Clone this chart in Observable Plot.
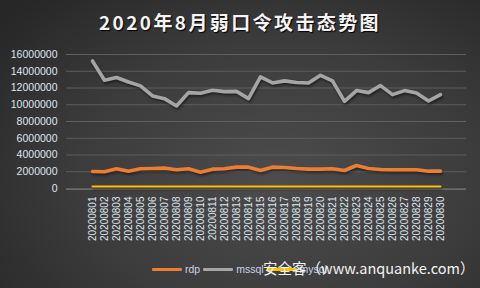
<!DOCTYPE html>
<html>
<head>
<meta charset="utf-8">
<script src="https://cdn.jsdelivr.net/npm/d3@7"></script>
<script src="https://cdn.jsdelivr.net/npm/@observablehq/plot@0.6"></script>
<style>
  html, body { margin: 0; padding: 0; }
  #wrap {
    position: relative; width: 480px; height: 288px; overflow: hidden;
    background: radial-gradient(ellipse 75% 85% at 58% 62%, #4c4c4c 0%, #3c3c3c 55%, #272727 100%);
    font-family: "Liberation Sans", Arial, sans-serif;
  }
  #title {
    position: absolute; left: 0; top: 8px; width: 480px; text-align: center;
    font-family: "Noto Sans CJK SC", sans-serif; font-weight: bold; font-size: 19px;
    letter-spacing: 2.4px; color: #f4f4f4; line-height: 28px;
    text-shadow: 1px 1px 1px #000;
  }
  #chart { position: absolute; left: 0; top: 36px; }
  #legend {
    position: absolute; top: 262px; left: 152px; height: 14px;
    display: flex; align-items: center; font-size: 10.5px; color: #c9d5e6;
  }
  .sw { display: inline-block; width: 30px; height: 3px; margin-right: 3px; border-radius: 1px; }
  .lab { margin-right: 3px; }
  #wm {
    position: absolute; left: 263px; top: 259px; font-family: "Noto Sans CJK SC", sans-serif;
    font-size: 14.5px; color: #f2f2f2; white-space: nowrap; line-height: 18px;
  }
</style>
</head>
<body>
<div id="wrap">
  <div id="title">2020年8月弱口令攻击态势图</div>
  <div id="chart"></div>
  <div id="legend"></div>
  <div id="wm">安全客（www.anquanke.com）</div>
</div>
<script>
const dates = ["20200801","20200802","20200803","20200804","20200805","20200806","20200807","20200808","20200809","20200810",
  "20200811","20200812","20200813","20200814","20200815","20200816","20200817","20200818","20200819","20200820",
  "20200821","20200822","20200823","20200824","20200825","20200826","20200827","20200828","20200829","20200830"];
const rdp = [2030000,2000000,2360000,2070000,2360000,2390000,2430000,2230000,2360000,1950000,
  2310000,2360000,2550000,2550000,2150000,2550000,2510000,2390000,2310000,2310000,
  2360000,2150000,2750000,2390000,2270000,2230000,2230000,2230000,2070000,2070000];
const mssql = [15230000,12920000,13250000,12720000,12250000,11050000,10730000,9850000,11450000,11370000,
  11730000,11570000,11600000,10730000,13320000,12600000,12850000,12650000,12600000,13520000,
  12850000,10410000,11690000,11450000,12290000,11210000,11690000,11410000,10450000,11210000];
const mysql = [250000,250000,250000,250000,250000,250000,250000,250000,250000,250000,
  250000,250000,250000,250000,250000,250000,250000,250000,250000,250000,
  250000,250000,250000,250000,250000,250000,250000,250000,250000,250000];
const yTicks = [0,2000000,4000000,6000000,8000000,10000000,12000000,14000000,16000000];

const seriesNames = ["rdp", "mssql", "mysql"];
const seriesColors = ["#ed7d31", "#a5a5a5", "#ffc000"];

const rows = [];
[rdp, mssql, mysql].forEach((arr, k) => arr.forEach((v, i) => rows.push({date: dates[i], value: v, series: seriesNames[k]})));

const chart = Plot.plot({
  width: 480, height: 214,
  marginTop: 18, marginBottom: 62, marginLeft: 66, marginRight: 14,
  style: {background: "transparent", color: "#dfe6ef", fontFamily: "Liberation Sans, Arial, sans-serif", fontSize: "10.5px"},
  x: {type: "point", domain: dates, range: [72, 459], label: null},
  y: {domain: [0, 16000000], label: null},
  marks: [
    Plot.gridY(yTicks, {stroke: "#5e5e5e", strokeOpacity: 1, strokeWidth: 1}),
    Plot.ruleY([0], {stroke: "#6a6a6a", strokeWidth: 1, dy: 1}),
    Plot.axisY(yTicks, {tickSize: 0, tickPadding: 9, tickFormat: d3.format("d"), fill: "#dfe6ef", fontSize: 10.5}),
    Plot.axisX({tickSize: 0, tickPadding: 8, tickRotate: -90, fill: "#dfe6ef", fontSize: 10, label: null}),
    Plot.line(rows, {x: "date", y: "value", z: "series",
      stroke: d => seriesColors[seriesNames.indexOf(d.series)],
      strokeWidth: d => d.series === "mysql" ? 2 : 3.6,
      strokeLinejoin: "round", strokeLinecap: "round",
      style: "filter: drop-shadow(1px 2px 1px rgba(0,0,0,0.45))"})
  ]
});
chart.querySelectorAll("path").forEach(p => p.style.filter = "drop-shadow(1px 2px 1px rgba(0,0,0,0.45))");
document.getElementById("chart").appendChild(chart);

const legend = document.getElementById("legend");
seriesNames.forEach((n, k) => {
  const sw = document.createElement("span"); sw.className = "sw"; sw.style.background = seriesColors[k];
  const lb = document.createElement("span"); lb.className = "lab"; lb.textContent = n;
  legend.appendChild(sw); legend.appendChild(lb);
});
</script>
</body>
</html>
